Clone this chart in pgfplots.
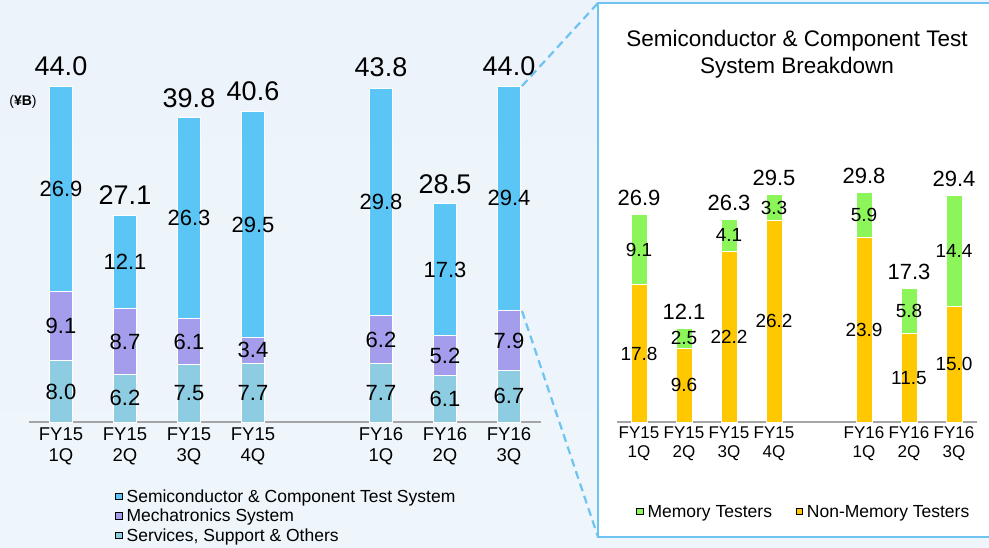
\documentclass[border=0pt]{standalone}
\usepackage{pgfplots}
\pgfplotsset{compat=1.18}
\usepackage{pgfplotstable}
\usepackage{fontspec}
\setmainfont{Liberation Sans}

\definecolor{semi}{RGB}{91,198,245}
\definecolor{mech}{RGB}{163,157,235}
\definecolor{serv}{RGB}{142,204,226}
\definecolor{mem}{RGB}{140,245,90}
\definecolor{nonmem}{RGB}{255,200,0}
\definecolor{panelc}{RGB}{110,195,240}
\definecolor{axl}{RGB}{165,165,165}
\definecolor{bgtop}{RGB}{236,243,250}
\definecolor{bgbot}{RGB}{238,245,251}

% x: position, s: Services, Support & Others, m: Mechatronics, c: Semiconductor & Component Test, t: total
\pgfplotstableread{
x s m c t
0 8.0 9.1 26.9 44.0
1 6.2 8.7 12.1 27.1
2 7.5 6.1 26.3 39.8
3 7.7 3.4 29.5 40.6
5 7.7 6.2 29.8 43.8
6 6.1 5.2 17.3 28.5
7 6.7 7.9 29.4 44.0
}\lefttab

% x: position, n: Non-Memory Testers, m: Memory Testers, t: total
\pgfplotstableread{
x n m t
0 17.8 9.1 26.9
1 9.6 2.5 12.1
2 22.2 4.1 26.3
3 26.2 3.3 29.5
5 23.9 5.9 29.8
6 11.5 5.8 17.3
7 15.0 14.4 29.4
}\righttab

\pgfplotsset{
  leftbox/.style={scale only axis, width=512pt, height=381.8pt,
    xmin=-0.5, xmax=7.5, ymin=0, ymax=50, enlargelimits=false,
    at={(29pt,125pt)}, anchor=south west, clip=false},
  rightbox/.style={scale only axis, width=360pt, height=385pt,
    xmin=-0.5, xmax=7.5, ymin=0, ymax=50, enlargelimits=false,
    at={(616.5pt,125pt)}, anchor=south west, clip=false},
  sqimg/.style={legend image code/.code={\fill[##1] (0pt,-2.5pt) rectangle (6.5pt,4pt);}},
}

\begin{document}
\begin{tikzpicture}
% background
\shade[top color=bgtop, middle color=white, bottom color=bgbot] (0,0) rectangle (989pt,547pt);
% breakdown panel
\fill[white] (598pt,10pt) rectangle (995pt,544pt);
\draw[panelc, line width=2pt] (598pt,10pt) rectangle (995pt,544pt);
% connector lines
\draw[panelc, line width=2.2pt, dash pattern=on 8pt off 5pt] (522pt,461pt) -- (598pt,544pt);
\draw[panelc, line width=2.2pt, dash pattern=on 8pt off 5pt] (522pt,236pt) -- (598pt,10pt);

% ---------- left chart: bars ----------
\begin{axis}[leftbox,
  ybar stacked, bar width=23pt,
  axis y line=none, axis x line*=bottom,
  x axis line style={draw=axl, line width=1.2pt, -},
  major tick length=0pt,
  xtick={0,1,2,3,5,6,7},
  xticklabels={{FY15\\1Q},{FY15\\2Q},{FY15\\3Q},{FY15\\4Q},{FY16\\1Q},{FY16\\2Q},{FY16\\3Q}},
  xticklabel style={align=center, font=\fontsize{18.5}{21}\selectfont, yshift=-2pt},
  legend style={at={(axis description cs:0.168,-0.174)}, anchor=north west,
    draw=none, fill=none, inner sep=0pt, row sep=3.5pt,
    font=\fontsize{17.5}{20.5}\selectfont, legend cell align=left,
    nodes={inner xsep=4.5pt, inner ysep=1pt}},
]
\addplot[fill=serv, draw=white, line width=1pt, forget plot] table[x=x, y=s] {\lefttab};
\addplot[fill=mech, draw=white, line width=1pt, forget plot] table[x=x, y=m] {\lefttab};
\addplot[fill=semi, draw=white, line width=1pt, forget plot] table[x=x, y=c] {\lefttab};
\addlegendimage{sqimg, fill=semi}
\addlegendentry{Semiconductor \& Component Test System}
\addlegendimage{sqimg, fill=mech}
\addlegendentry{Mechatronics System}
\addlegendimage{sqimg, fill=serv}
\addlegendentry{Services, Support \& Others}
\end{axis}

% ---------- left chart: value labels ----------
\begin{axis}[leftbox, hide axis]
\addplot[only marks, mark=none, nodes near coords, point meta=explicit symbolic,
  every node near coord/.append style={anchor=center, font=\fontsize{22}{24}\selectfont}]
  table[x=x, y expr=\thisrow{s}/2, meta=s] {\lefttab};
\addplot[only marks, mark=none, nodes near coords, point meta=explicit symbolic,
  every node near coord/.append style={anchor=center, font=\fontsize{22}{24}\selectfont}]
  table[x=x, y expr=\thisrow{s}+\thisrow{m}/2, meta=m] {\lefttab};
\addplot[only marks, mark=none, nodes near coords, point meta=explicit symbolic,
  every node near coord/.append style={anchor=center, font=\fontsize{22}{24}\selectfont}]
  table[x=x, y expr=\thisrow{s}+\thisrow{m}+\thisrow{c}/2, meta=c] {\lefttab};
\addplot[only marks, mark=none, nodes near coords, point meta=explicit symbolic,
  every node near coord/.append style={anchor=base, yshift=11pt, font=\fontsize{27}{30}\selectfont}]
  table[x=x, y=t, meta=t] {\lefttab};
\end{axis}

% ---------- right chart: bars ----------
\begin{axis}[rightbox,
  ybar stacked, bar width=16pt,
  axis y line=none, axis x line*=bottom,
  x axis line style={draw=axl, line width=1.2pt, -},
  major tick length=0pt,
  xtick={0,1,2,3,5,6,7},
  xticklabels={{FY15\\1Q},{FY15\\2Q},{FY15\\3Q},{FY15\\4Q},{FY16\\1Q},{FY16\\2Q},{FY16\\3Q}},
  xticklabel style={align=center, font=\fontsize{17}{19}\selectfont, yshift=-1pt},
  legend columns=2,
  legend style={at={(axis description cs:0.054,-0.213)}, anchor=north west,
    draw=none, fill=none, inner sep=0pt,
    font=\fontsize{17.5}{20}\selectfont,
    nodes={inner xsep=4.5pt, inner ysep=1pt},
    /tikz/every even column/.append style={column sep=19pt}},
]
\addplot[fill=nonmem, draw=white, line width=1pt, forget plot] table[x=x, y=n] {\righttab};
\addplot[fill=mem, draw=white, line width=1pt, forget plot] table[x=x, y=m] {\righttab};
\addlegendimage{sqimg, fill=mem}
\addlegendentry{Memory Testers}
\addlegendimage{sqimg, fill=nonmem}
\addlegendentry{Non-Memory Testers}
\end{axis}

% ---------- right chart: value labels ----------
\begin{axis}[rightbox, hide axis]
\addplot[only marks, mark=none, nodes near coords, point meta=explicit symbolic,
  every node near coord/.append style={anchor=center, font=\fontsize{19}{21}\selectfont}]
  table[x=x, y expr=\thisrow{n}/2, meta=n] {\righttab};
\addplot[only marks, mark=none, nodes near coords, point meta=explicit symbolic,
  every node near coord/.append style={anchor=center, font=\fontsize{19}{21}\selectfont}]
  table[x=x, y expr=\thisrow{n}+\thisrow{m}/2, meta=m] {\righttab};
\addplot[only marks, mark=none, nodes near coords, point meta=explicit symbolic,
  every node near coord/.append style={anchor=base, yshift=9pt, font=\fontsize{22}{24}\selectfont}]
  table[x=x, y=t, meta=t] {\righttab};
\end{axis}

% titles
\node[align=center, font=\fontsize{22.5}{27.5}\selectfont] at (797pt,493pt)
  {Semiconductor \& Component Test\\System Breakdown};
\node[font=\fontsize{14}{16}\selectfont] at (23pt,445pt) {(\textbf{¥B})};

\pgfresetboundingbox
\useasboundingbox (0,0) rectangle (989pt,547pt);
\end{tikzpicture}
\end{document}
